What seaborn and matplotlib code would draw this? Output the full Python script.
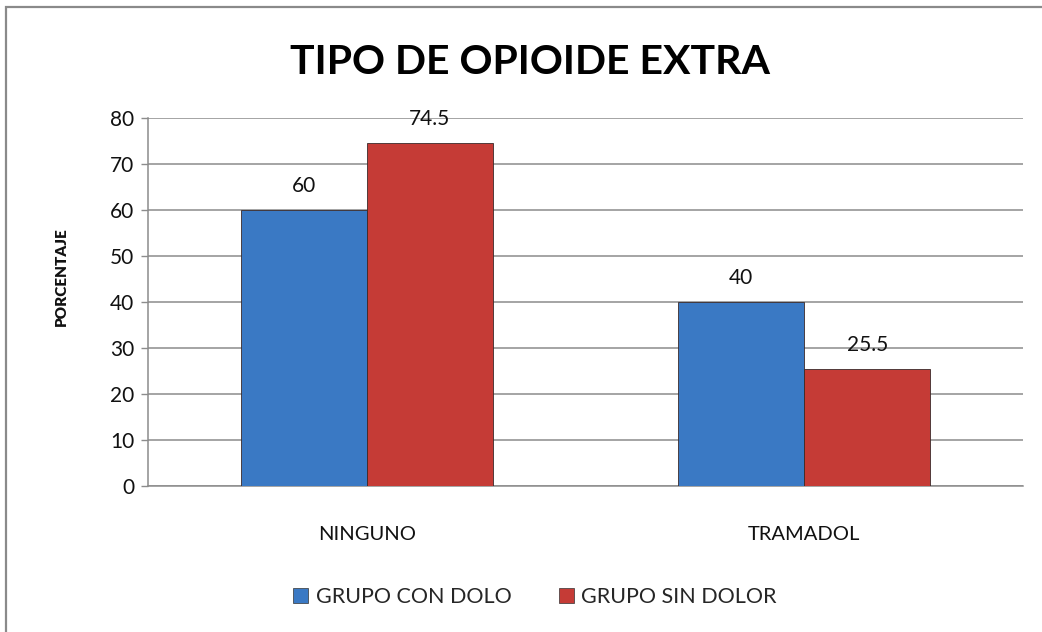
import matplotlib
matplotlib.use("Agg")
import matplotlib.pyplot as plt
import seaborn as sns
import pandas as pd
from matplotlib.patches import Rectangle

categories = ["NINGUNO", "TRAMADOL"]
series_names = ["GRUPO CON DOLO", "GRUPO SIN DOLOR"]
con_dolo = [60, 40]
sin_dolor = [74.5, 25.5]
y_ticks = [0, 10, 20, 30, 40, 50, 60, 70, 80]
colors = ["#3A79C4", "#C53B36"]

sns.set_theme(style="white")
plt.rcParams['font.family'] = ['Lato', 'DejaVu Sans']

df = pd.DataFrame({
    "cat": categories * 2,
    "serie": [series_names[0]] * 2 + [series_names[1]] * 2,
    "val": con_dolo + sin_dolor,
})

fig = plt.figure(figsize=(10.42, 6.32), dpi=100)
ax = fig.add_axes([148/1042, 1-486/632, (1023-148)/1042, (486-118)/632])

sns.barplot(data=df, x="cat", y="val", hue="serie", palette=colors,
            width=0.576, ax=ax, edgecolor="#3a2a2a", linewidth=0.6,
            saturation=1, errorbar=None, zorder=3)

for cont in ax.containers:
    labels = [("%g" % v) for v in cont.datavalues]
    ax.bar_label(cont, labels=labels, padding=10, fontsize=15, color="#111111")

ax.set_ylim(0, 80)
ax.set_xlim(-0.5, 1.5)
ax.set_yticks(y_ticks)
ax.yaxis.grid(True, color="#8c8c8c", linewidth=1.1, zorder=0)
ax.set_axisbelow(True)
ax.tick_params(axis="y", which="both", left=True, length=5, width=1, color="#8c8c8c",
               labelsize=15, pad=5, labelcolor="#111111")
ax.tick_params(axis="x", bottom=False, labelsize=14.5, pad=23, labelcolor="#111111")
for s in ["top", "right"]:
    ax.spines[s].set_visible(False)
for s in ["left", "bottom"]:
    ax.spines[s].set_color("#8c8c8c")
    ax.spines[s].set_linewidth(1.1)
ax.set_xlabel("")
ax.set_ylabel("PORCENTAJE", fontsize=11, fontweight="heavy", color="#111111")
ax.yaxis.set_label_coords((68-148)/875, (486-277)/368)

fig.text(530/1042, 1-62/632, "TIPO DE OPIOIDE EXTRA", ha="center", va="center",
         fontsize=29.5, fontweight="bold", color="#000000")

ax.legend_.remove()
handles = [Rectangle((0, 0), 1, 1, facecolor=c, edgecolor="#333333", linewidth=0.5) for c in colors]
fig.legend(handles, series_names, loc="center", bbox_to_anchor=(535/1042, 1-597/632),
           ncol=2, frameon=False, fontsize=15.5, handlelength=0.7, handleheight=0.7,
           handletextpad=0.35, columnspacing=2.2)

fig.patches.append(Rectangle((6/1042, -0.2), 1.2, 1.2 - 6.5/632,
                             transform=fig.transFigure, fill=False,
                             edgecolor="#8a8a8a", linewidth=1.6, zorder=10))

fig.savefig("out.png", dpi=100)
